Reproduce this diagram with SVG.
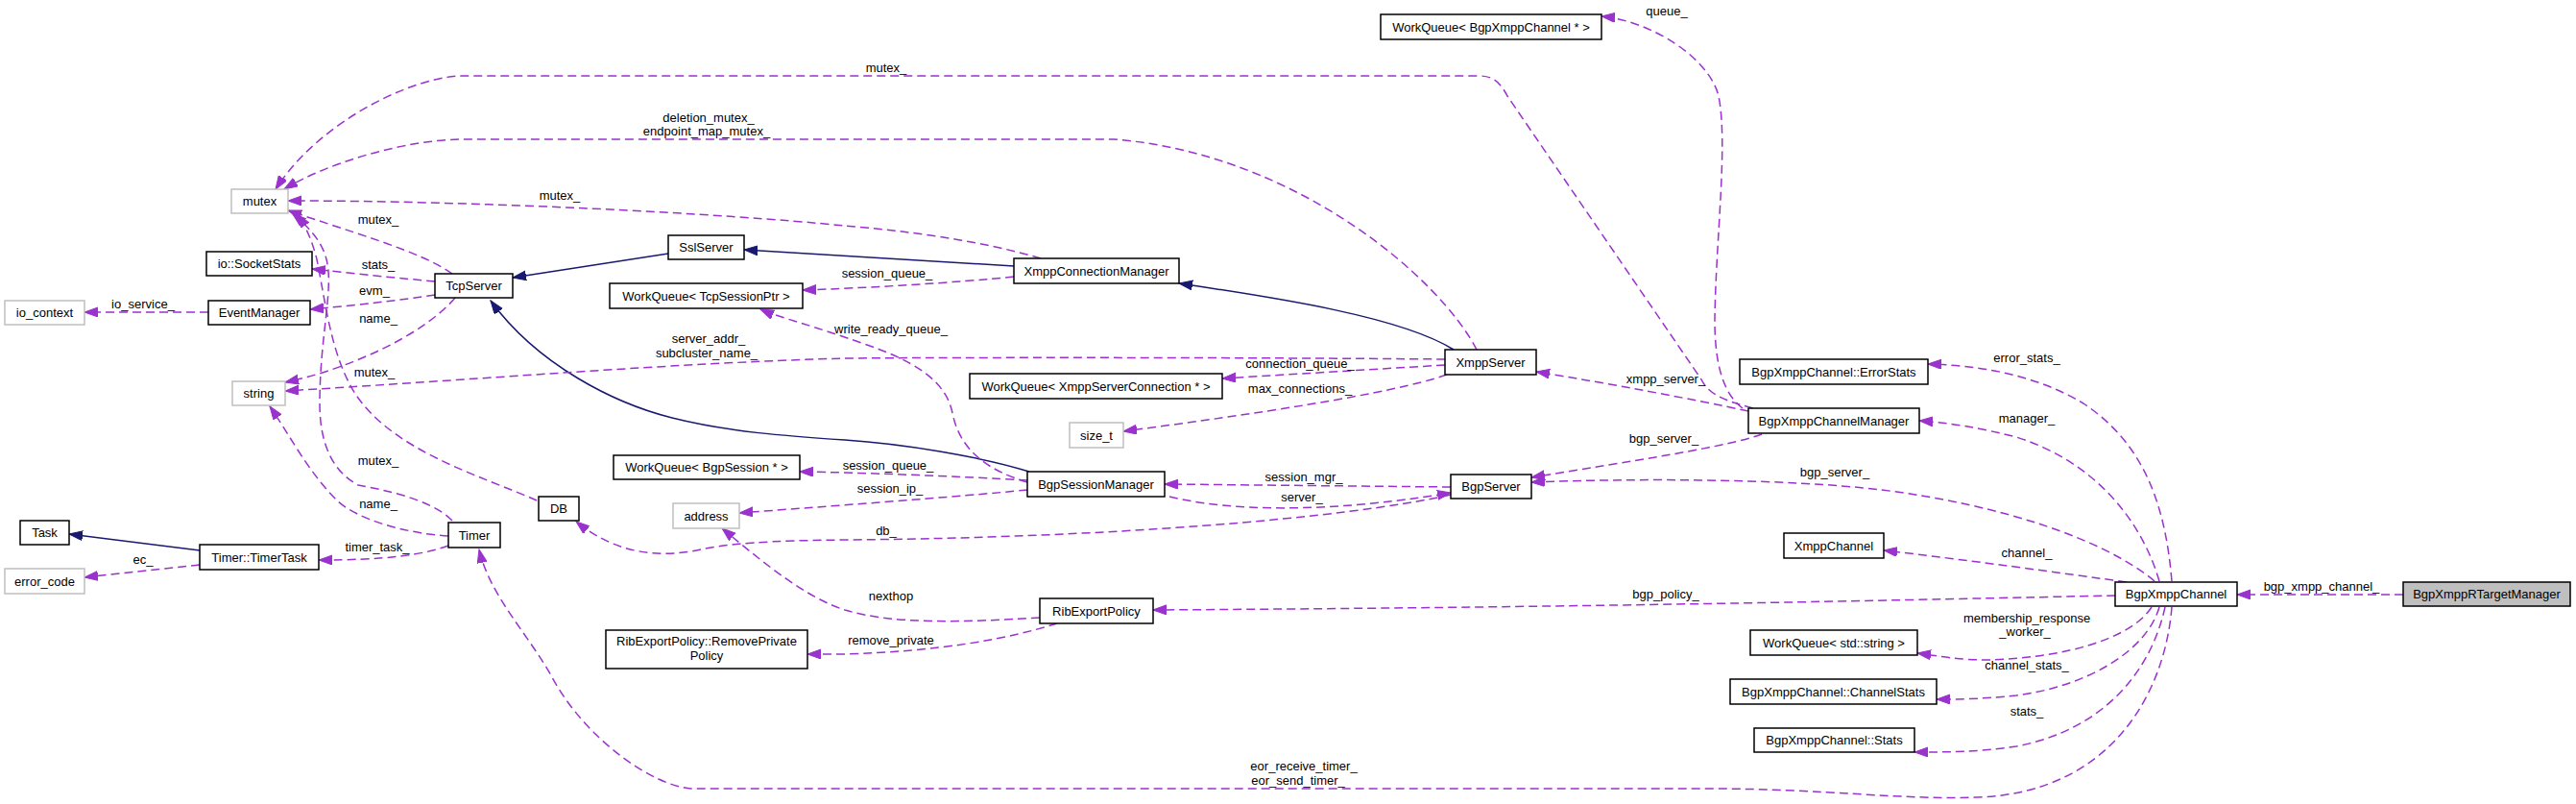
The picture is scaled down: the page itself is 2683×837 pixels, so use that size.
<svg xmlns="http://www.w3.org/2000/svg" width="2683" height="837" viewBox="0 0 2683 837">
<style>
text{font-family:"Liberation Sans",Arial,Helvetica,sans-serif;font-size:13px;fill:#000;text-anchor:middle}
.n rect{fill:#fff;stroke:#000;stroke-width:1.5}
.g rect{fill:#fff;stroke:#bfbfbf;stroke-width:1.5}
.r rect{fill:#bfbfbf;stroke:#000;stroke-width:1.5}
.e{fill:none;stroke:#9a32cd;stroke-width:1.5;stroke-dasharray:9,5;marker-end:url(#pa)}
.i{fill:none;stroke:#191970;stroke-width:1.5;marker-end:url(#ba)}
</style>
<defs>
<marker id="pa" markerUnits="userSpaceOnUse" markerWidth="15" markerHeight="11" refX="14" refY="5" orient="auto" viewBox="0 0 15 11"><path d="M0,0L14,5L0,10z" fill="#9a32cd" stroke="#9a32cd"/></marker>
<marker id="ba" markerUnits="userSpaceOnUse" markerWidth="15" markerHeight="11" refX="14" refY="5" orient="auto" viewBox="0 0 15 11"><path d="M0,0L14,5L0,10z" fill="#191970" stroke="#191970"/></marker>
</defs>
<rect width="2683" height="837" fill="#fff"/>
<g id="connectors">
<path class="e" d="M2503,619L2330,619"/><text x="2418" y="615">bgp_xmpp_channel_</text>
<path class="e" d="M2215,606C2150,597 2050,583 1962,573"/><text x="2111" y="580">channel_</text>
<path class="e" d="M2249,605C2230,540 2180,480 2100,455C2060,445 2030,440 1999,438"/><text x="2111" y="440">manager_</text>
<path class="e" d="M2244,605C2190,560 2080,525 1960,510C1860,498 1700,498 1595,502"/><text x="1911" y="496">bgp_server_</text>
<path class="e" d="M2262,605C2255,520 2230,460 2170,420C2120,390 2060,380 2008,379"/><text x="2111" y="377">error_stats_</text>
<path class="e" d="M2203,620C2000,624 1700,632 1201,635"/><text x="1735" y="623">bgp_policy_</text>
<path class="e" d="M2241,632C2220,665 2150,685 2070,687C2040,687 2020,683 1997,680"/><text x="2111" y="648">membership_response</text><text x="2109" y="662">_worker_</text>
<path class="e" d="M2249,632C2235,680 2170,715 2100,724C2060,728 2040,728 2017,728"/><text x="2111" y="697">channel_stats_</text>
<path class="e" d="M2255,632C2240,700 2190,760 2100,777C2060,783 2030,783 1994,783"/><text x="2111" y="745">stats_</text>
<path class="e" d="M2262,632C2255,720 2200,825 2060,830C1980,833 1900,821 1780,821L720,821C680,818 610,770 575,705C550,660 510,620 499,572"/><text x="1358" y="802">eor_receive_timer_</text><text x="1352" y="817">eor_send_timer_</text>
<path class="e" d="M1815,425C1795,410 1786,380 1786,333C1787,250 1800,150 1790,100C1780,60 1720,22 1668,17"/><text x="1736" y="16">queue_</text>
<path class="e" d="M1826,425C1800,418 1780,412 1772,395L1570,100C1562,85 1555,79 1540,79L476,79C420,84 330,130 287,197"/><text x="923" y="75">mutex_</text>
<path class="e" d="M1835,452C1800,465 1700,480 1595,497"/><text x="1733" y="461">bgp_server_</text>
<path class="i" d="M1514,364C1460,330 1330,310 1228,295"/>
<path class="i" d="M1056,277L775,260"/>
<path class="i" d="M696,264L534,289"/>
<path class="i" d="M1072,491C1020,475 940,462 880,458C820,454 760,450 700,435C640,420 560,380 511,313"/>
<path class="e" d="M1084,269C1020,250 940,240 880,235C750,222 500,209 300,209"/><text x="583" y="208">mutex_</text>
<path class="e" d="M1056,288C1000,294 900,300 836,302"/><text x="924" y="289">session_queue_</text>
<path class="e" d="M1538,364C1500,290 1350,160 1160,145L480,145C420,146 340,170 296,197"/><text x="738" y="127">deletion_mutex_</text><text x="736" y="141">endpoint_map_mutex_</text>
<path class="e" d="M1505,374C1300,372 1000,372 880,373C700,378 500,395 297,407"/><text x="738" y="357">server_addr_</text><text x="736" y="372">subcluster_name_</text>
<path class="e" d="M1505,380L1273,394"/><text x="1354" y="383">connection_queue_</text>
<path class="e" d="M1507,390C1450,410 1300,432 1170,449"/><text x="1354" y="409">max_connections_</text>
<path class="e" d="M1821,428C1760,415 1680,400 1600,387"/><text x="1735" y="399">xmpp_server_</text>
<path class="e" d="M471,285C440,262 360,240 300,219"/><text x="394" y="233">mutex_</text>
<path class="e" d="M453,293C420,290 370,285 325,280"/><text x="394" y="280">stats_</text>
<path class="e" d="M453,307C420,312 370,318 323,322"/><text x="390" y="307">evm_</text>
<path class="e" d="M474,310C440,350 360,385 297,398"/><text x="394" y="336">name_</text>
<path class="e" d="M217,325L88,325"/><text x="149" y="321">io_service_</text>
<path class="e" d="M471,542C450,520 400,510 373,505C345,490 333,460 333,420C333,350 348,300 340,270C335,250 320,235 305,223"/><text x="394" y="484">mutex_</text>
<path class="e" d="M559,521C500,495 410,470 370,410C345,370 340,320 330,270C325,250 318,235 310,223"/><text x="390" y="392">mutex_</text>
<path class="e" d="M467,558C420,555 370,540 350,520C320,490 300,450 281,423"/><text x="394" y="529">name_</text>
<path class="e" d="M467,568C440,578 400,583 332,583"/><text x="393" y="574">timer_task_</text>
<path class="i" d="M208,573L72,556"/>
<path class="e" d="M208,588L88,601"/><text x="149" y="587">ec_</text>
<path class="e" d="M1511,515C1400,540 1150,560 880,562C800,563 760,565 720,574C680,580 640,575 600,543"/><text x="923" y="557">db_</text>
<path class="e" d="M1511,507L1213,504"/><text x="1358" y="501">session_mgr_</text>
<path class="e" d="M1218,517C1280,532 1380,535 1511,513"/><text x="1356" y="522">server_</text>
<path class="e" d="M1070,500C1000,496 900,492 833,491"/><text x="925" y="489">session_queue_</text>
<path class="e" d="M1070,510C1000,517 850,528 770,534"/><text x="927" y="513">session_ip_</text>
<path class="e" d="M1070,502C1030,490 1000,470 992,430C985,395 950,375 900,358C850,340 810,330 792,322"/><text x="928" y="347">write_ready_queue_</text>
<path class="e" d="M1083,643C1000,648 930,650 880,635C840,622 800,590 752,550"/><text x="928" y="625">nexthop</text>
<path class="e" d="M1101,649C1050,665 980,678 880,681L841,681"/><text x="928" y="671">remove_private</text>
</g>
<g id="mutex" class="g"><rect x="241" y="197" width="59" height="25"/><text x="270.5" y="214">mutex</text></g>
<g id="io_SocketStats" class="n"><rect x="215" y="262" width="110" height="25"/><text x="270" y="279">io::SocketStats</text></g>
<g id="EventManager" class="n"><rect x="217" y="313" width="106" height="25"/><text x="270" y="330">EventManager</text></g>
<g id="io_context" class="g"><rect x="5" y="313" width="83" height="25"/><text x="46.5" y="330">io_context</text></g>
<g id="TcpServer" class="n"><rect x="453" y="285" width="81" height="25"/><text x="493.5" y="302">TcpServer</text></g>
<g id="SslServer" class="n"><rect x="696" y="245" width="79" height="25"/><text x="735.5" y="262">SslServer</text></g>
<g id="WQ_TcpSessionPtr" class="n"><rect x="635" y="295" width="201" height="26"/><text x="735.5" y="312.5">WorkQueue&lt; TcpSessionPtr &gt;</text></g>
<g id="string" class="g"><rect x="242" y="397" width="55" height="25"/><text x="269.5" y="414">string</text></g>
<g id="Task" class="n"><rect x="21" y="542" width="51" height="25"/><text x="46.5" y="559">Task</text></g>
<g id="TimerTask" class="n"><rect x="208" y="567" width="124" height="26"/><text x="270" y="584.5">Timer::TimerTask</text></g>
<g id="error_code" class="g"><rect x="5" y="592" width="83" height="26"/><text x="46.5" y="609.5">error_code</text></g>
<g id="Timer" class="n"><rect x="467" y="544" width="54" height="26"/><text x="494" y="561.5">Timer</text></g>
<g id="DB" class="n"><rect x="561" y="517" width="42" height="25"/><text x="582" y="534">DB</text></g>
<g id="WQ_BgpSession" class="n"><rect x="639" y="474" width="194" height="25"/><text x="736" y="491">WorkQueue&lt; BgpSession * &gt;</text></g>
<g id="address" class="g"><rect x="701" y="524" width="69" height="26"/><text x="735.5" y="541.5">address</text></g>
<g id="RemovePrivatePolicy" class="n"><rect x="631" y="656" width="210" height="40"/><text x="736" y="672">RibExportPolicy::RemovePrivate</text><text x="736" y="687">Policy</text></g>
<g id="XmppConnectionManager" class="n"><rect x="1056" y="269" width="172" height="26"/><text x="1142" y="286.5">XmppConnectionManager</text></g>
<g id="XmppServer" class="n"><rect x="1505" y="364" width="95" height="26"/><text x="1552.5" y="381.5">XmppServer</text></g>
<g id="WQ_XmppServerConnection" class="n"><rect x="1010" y="389" width="263" height="26"/><text x="1141.5" y="406.5">WorkQueue&lt; XmppServerConnection * &gt;</text></g>
<g id="WQ_BgpXmppChannel" class="n"><rect x="1438" y="15" width="230" height="26"/><text x="1553" y="32.5">WorkQueue&lt; BgpXmppChannel * &gt;</text></g>
<g id="size_t" class="g"><rect x="1114" y="440" width="56" height="26"/><text x="1142" y="457.5">size_t</text></g>
<g id="BgpSessionManager" class="n"><rect x="1070" y="491" width="143" height="26"/><text x="1141.5" y="508.5">BgpSessionManager</text></g>
<g id="BgpServer" class="n"><rect x="1511" y="494" width="84" height="25"/><text x="1553" y="511">BgpServer</text></g>
<g id="RibExportPolicy" class="n"><rect x="1083" y="623" width="118" height="26"/><text x="1142" y="640.5">RibExportPolicy</text></g>
<g id="ErrorStats" class="n"><rect x="1812" y="374" width="196" height="26"/><text x="1910" y="391.5">BgpXmppChannel::ErrorStats</text></g>
<g id="BgpXmppChannelManager" class="n"><rect x="1821" y="425" width="178" height="26"/><text x="1910" y="442.5">BgpXmppChannelManager</text></g>
<g id="XmppChannel" class="n"><rect x="1858" y="555" width="104" height="26"/><text x="1910" y="572.5">XmppChannel</text></g>
<g id="BgpXmppChannel" class="n"><rect x="2203" y="606" width="127" height="25"/><text x="2266.5" y="623">BgpXmppChannel</text></g>
<g id="BgpXmppRTargetManager" class="r"><rect x="2503" y="606" width="174" height="25"/><text x="2590" y="623">BgpXmppRTargetManager</text></g>
<g id="WQ_string" class="n"><rect x="1823" y="656" width="174" height="26"/><text x="1910" y="673.5">WorkQueue&lt; std::string &gt;</text></g>
<g id="ChannelStats" class="n"><rect x="1802" y="707" width="215" height="26"/><text x="1909.5" y="724.5">BgpXmppChannel::ChannelStats</text></g>
<g id="Stats" class="n"><rect x="1827" y="758" width="167" height="25"/><text x="1910.5" y="775">BgpXmppChannel::Stats</text></g>
</svg>
